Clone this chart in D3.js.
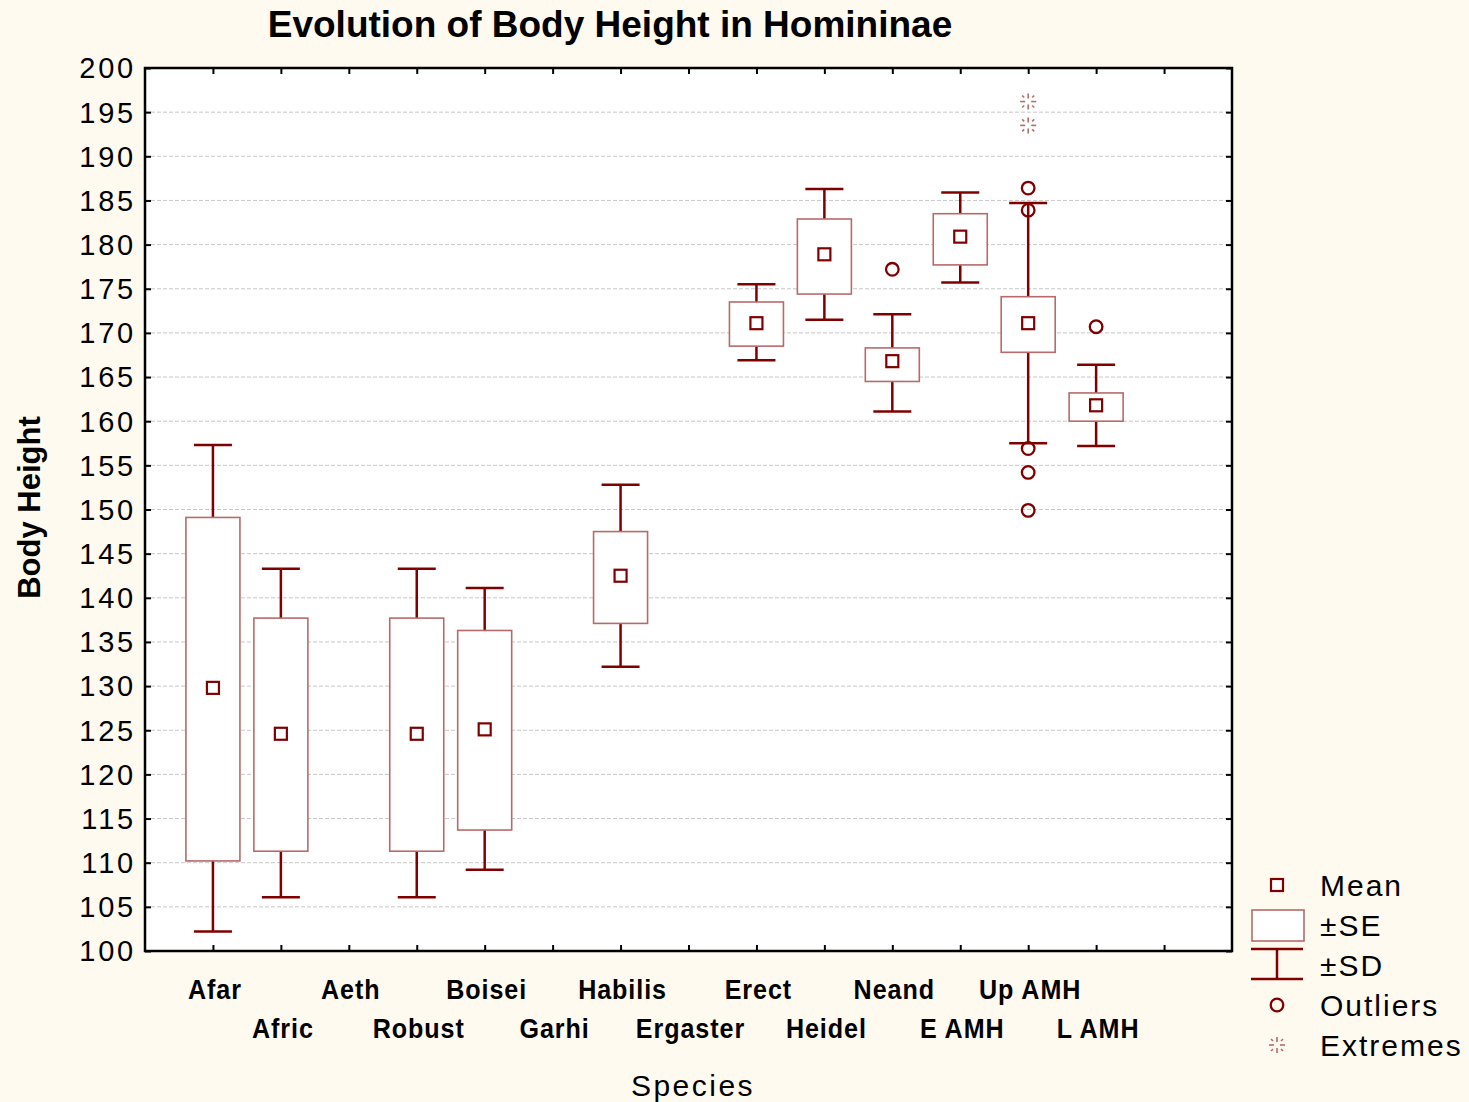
<!DOCTYPE html>
<html>
<head>
<meta charset="utf-8">
<script src="https://cdn.jsdelivr.net/npm/d3@7"></script>
<style>
  body { margin: 0; background: #fffaf0; }
  svg { display: block; font-family: "Liberation Sans", Arial, sans-serif; }
</style>
</head>
<body>
<div id="chart"></div>
<script>
// categories in slot order (1..14)
const species = ['Afar', 'Afric', 'Aeth', 'Robust', 'Boisei', 'Garhi', 'Habilis',
  'Ergaster', 'Erect', 'Heidel', 'Neand', 'E AMH', 'Up AMH', 'L AMH']
// null = no data drawn for that species
const means = [129.8, 124.6, null, 124.6, 125.1, null, 142.5, null, 171.1, 178.9, 166.8, 180.9, 171.1, 161.8]
const seLow = [110.2, 111.3, null, 111.3, 113.7, null, 137.1, null, 168.5, 174.4, 164.5, 177.7, 167.8, 160.0]
const seHigh = [149.1, 137.7, null, 137.7, 136.3, null, 147.5, null, 173.5, 182.9, 168.3, 183.5, 174.1, 163.2]
const sdLow = [102.2, 106.1, null, 106.1, 109.2, null, 132.2, null, 166.9, 171.5, 161.1, 175.7, 157.5, 157.2]
const sdHigh = [157.3, 143.3, null, 143.3, 141.1, null, 152.8, null, 175.5, 186.3, 172.1, 185.9, 184.7, 166.4]
const outliers = [
  { sp: 'Neand', v: 177.2 },
  { sp: 'Up AMH', v: 186.4 }, { sp: 'Up AMH', v: 183.9 },
  { sp: 'Up AMH', v: 156.9 }, { sp: 'Up AMH', v: 154.2 }, { sp: 'Up AMH', v: 149.9 },
  { sp: 'L AMH', v: 170.7 }
]
const extremes = [{ sp: 'Up AMH', v: 196.2 }, { sp: 'Up AMH', v: 193.5 }]
const yTicks = d3.range(100, 201, 5)
const legendItems = ['Mean', '±SE', '±SD', 'Outliers', 'Extremes']

const width = 1469, height = 1102
const margins = { top: 68, right: 237, bottom: 151, left: 145 }
const dark = '#800000', light = '#b86a6a'

const svg = d3.select('#chart').append('svg')
  .attr('width', width).attr('height', height)
svg.append('rect').attr('width', width).attr('height', height).attr('fill', '#fffaf0')

const pw = width - margins.left - margins.right
const ph = height - margins.top - margins.bottom

const x = d3.scaleLinear().domain([0, 16]).range([margins.left, margins.left + pw])
const y = d3.scaleLinear().domain([100, 200]).range([margins.top + ph, margins.top])
const pos = sp => x(species.indexOf(sp) + 1)

svg.append('rect')
  .attr('x', margins.left).attr('y', margins.top)
  .attr('width', pw).attr('height', ph).attr('fill', '#fff')

// grid
svg.append('g').selectAll('line')
  .data(yTicks.slice(1, -1)).join('line')
  .attr('x1', margins.left).attr('x2', margins.left + pw)
  .attr('y1', d => y(d)).attr('y2', d => y(d))
  .attr('stroke', '#c8c8c8').attr('stroke-width', 1).attr('stroke-dasharray', '4,2')

// axes (ticks pointing inward)
const xTickVals = d3.range(1, 16)
svg.append('g').attr('transform', `translate(0,${margins.top + ph})`)
  .call(d3.axisTop(x).tickValues(xTickVals).tickSize(6).tickFormat(''))
svg.append('g').attr('transform', `translate(0,${margins.top})`)
  .call(d3.axisBottom(x).tickValues(xTickVals).tickSize(6).tickFormat(''))
const yAxis = svg.append('g').attr('transform', `translate(${margins.left},0)`)
  .call(d3.axisLeft(y).tickValues(yTicks).tickSize(0).tickPadding(9))
yAxis.selectAll('text').attr('font-size', 29).attr('letter-spacing', 2.8).attr('fill', '#000')
  .attr('dy', '0.34em')
svg.append('g').attr('transform', `translate(${margins.left},0)`)
  .call(d3.axisRight(y).tickValues(yTicks).tickSize(6).tickFormat(''))
svg.append('g').attr('transform', `translate(${margins.left + pw},0)`)
  .call(d3.axisLeft(y).tickValues(yTicks).tickSize(6).tickFormat(''))
svg.selectAll('.domain').remove()
svg.selectAll('.tick line').attr('stroke', '#000').attr('stroke-width', 2)
svg.append('rect')
  .attr('x', margins.left).attr('y', margins.top)
  .attr('width', pw).attr('height', ph)
  .attr('fill', 'none').attr('stroke', '#000').attr('stroke-width', 2.5)

// x labels, staggered
svg.append('g').selectAll('text')
  .data(species).join('text')
  .attr('x', (d, i) => x(i + 1) + 2)
  .attr('y', (d, i) => margins.top + ph + (i % 2 === 0 ? 48 : 87))
  .attr('text-anchor', 'middle')
  .attr('font-size', 27).attr('font-weight', 'bold').attr('letter-spacing', 1)
  .attr('transform', (d, i) => {
    const cx = x(i + 1) + 2
    return `translate(${cx},0) scale(0.93,1) translate(${-cx},0)`
  })
  .text(d => d)

// boxes
const idx = d3.range(species.length).filter(i => means[i] !== null)
const bw = 27, cw = 19, ms = 6
const g = svg.append('g')
g.selectAll('.sd').data(idx).join('line')
  .attr('x1', i => x(i + 1)).attr('x2', i => x(i + 1))
  .attr('y1', i => y(sdLow[i])).attr('y2', i => y(sdHigh[i]))
  .attr('stroke', dark).attr('stroke-width', 2.5)
for (const arr of [sdLow, sdHigh]) {
  g.selectAll(null).data(idx).join('line')
    .attr('x1', i => x(i + 1) - cw).attr('x2', i => x(i + 1) + cw)
    .attr('y1', i => y(arr[i])).attr('y2', i => y(arr[i]))
    .attr('stroke', dark).attr('stroke-width', 2.5)
}
g.selectAll('.se').data(idx).join('rect')
  .attr('x', i => x(i + 1) - bw).attr('width', bw * 2)
  .attr('y', i => y(seHigh[i])).attr('height', i => y(seLow[i]) - y(seHigh[i]))
  .attr('fill', '#fff').attr('stroke', light).attr('stroke-width', 1.6)
g.selectAll('.mean').data(idx).join('rect')
  .attr('x', i => x(i + 1) - ms).attr('y', i => y(means[i]) - ms)
  .attr('width', ms * 2).attr('height', ms * 2)
  .attr('fill', '#fff').attr('stroke', dark).attr('stroke-width', 2.2)

// outliers
g.selectAll('.out').data(outliers).join('circle')
  .attr('cx', d => pos(d.sp)).attr('cy', d => y(d.v)).attr('r', 6.3)
  .attr('fill', 'none').attr('stroke', dark).attr('stroke-width', 2.3)

// extremes star glyph
function star(sel) {
  const segs = [[-8, 0, -3, 0], [3, 0, 8, 0], [0, -8, 0, -3], [0, 3, 0, 8],
    [-6, -6, -4, -4], [4, -4, 6, -6], [-6, 6, -4, 4], [4, 4, 6, 6]]
  sel.selectAll('line').data(segs).join('line')
    .attr('x1', s => s[0]).attr('y1', s => s[1]).attr('x2', s => s[2]).attr('y2', s => s[3])
    .attr('stroke', light).attr('stroke-width', 1.6)
}
g.selectAll('.ext').data(extremes).join('g')
  .attr('transform', d => `translate(${pos(d.sp)},${y(d.v)})`)
  .each(function () { star(d3.select(this)) })

// legend
const lg = svg.append('g')
const lx = 1277, ly0 = 885, lstep = 40
lg.selectAll('text').data(legendItems).join('text')
  .attr('x', 1320).attr('y', (d, i) => ly0 + i * lstep + 11)
  .attr('font-size', 30).attr('letter-spacing', 2).text(d => d)
lg.append('rect').attr('x', lx - 6).attr('y', ly0 - 6).attr('width', 12).attr('height', 12)
  .attr('fill', '#fff').attr('stroke', dark).attr('stroke-width', 2.2)
lg.append('rect').attr('x', lx - 25).attr('y', ly0 + lstep - 15).attr('width', 52).attr('height', 31)
  .attr('fill', '#fff').attr('stroke', light).attr('stroke-width', 1.6)
const sdy = ly0 + lstep * 2
lg.append('line').attr('x1', lx - 26).attr('x2', lx + 26).attr('y1', sdy - 16).attr('y2', sdy - 16)
  .attr('stroke', dark).attr('stroke-width', 2.5)
lg.append('line').attr('x1', lx - 26).attr('x2', lx + 26).attr('y1', sdy + 14).attr('y2', sdy + 14)
  .attr('stroke', dark).attr('stroke-width', 2.5)
lg.append('line').attr('x1', lx).attr('x2', lx).attr('y1', sdy - 16).attr('y2', sdy + 14)
  .attr('stroke', dark).attr('stroke-width', 2.5)
lg.append('circle').attr('cx', lx).attr('cy', ly0 + lstep * 3).attr('r', 6.3)
  .attr('fill', 'none').attr('stroke', dark).attr('stroke-width', 2.3)
lg.append('g').attr('transform', `translate(${lx},${ly0 + lstep * 4})`).call(star)

// titles
svg.append('text').attr('x', 610).attr('y', 37).attr('text-anchor', 'middle')
  .attr('font-size', 37).attr('font-weight', 'bold').text('Evolution of Body Height in Homininae')
svg.append('text').attr('x', 693).attr('y', 1096).attr('text-anchor', 'middle')
  .attr('font-size', 30).attr('letter-spacing', 2.5).text('Species')
svg.append('text').attr('transform', `translate(40,${y(150) - 2}) rotate(-90)`)
  .attr('text-anchor', 'middle').attr('font-size', 31).attr('font-weight', 'bold')
  .text('Body Height')
</script>
</body>
</html>
